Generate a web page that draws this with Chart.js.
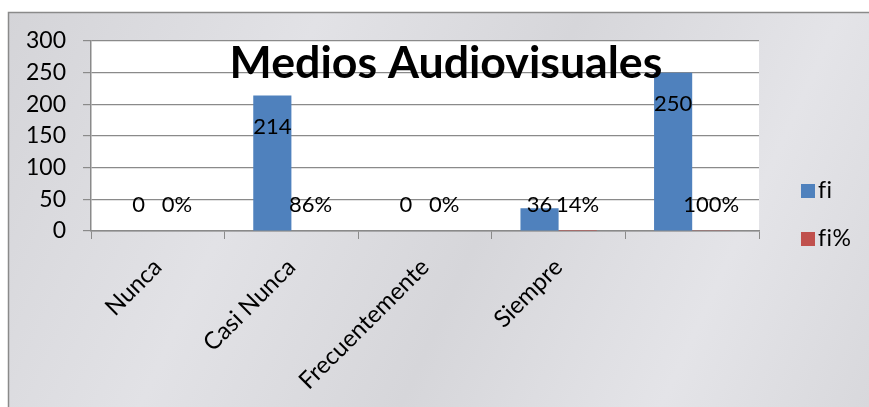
<!DOCTYPE html>
<html>
<head>
<meta charset="utf-8">
<script src="https://cdn.jsdelivr.net/npm/chart.js@4.4.1/dist/chart.umd.min.js"></script>
<style>
  html, body { margin: 0; padding: 0; background: #fff; }
  #wrap { width: 869px; height: 407px; position: relative; }
</style>
</head>
<body>
<div id="wrap"><canvas id="medios"></canvas></div>
<script>
const categories = ['Nunca', 'Casi Nunca', 'Frecuentemente', 'Siempre', ''];
const fiValues = [0, 214, 0, 36, 250];
const fiPctValues = [0, 0.86, 0, 0.14, 1];
const fiPctLabels = ['0%', '86%', '0%', '14%', '100%'];
const yTicks = [0, 50, 100, 150, 200, 250, 300];
const chartTitle = 'Medios Audiovisuales';

const FONT = 'Lato, Calibri, "Liberation Sans", sans-serif';

// background: white page, marble-ish panel, white plot area
const backdrop = {
    id: 'backdrop',
    beforeDraw(chart) {
        const ctx = chart.ctx;
        const a = chart.chartArea;
        ctx.save();
        ctx.fillStyle = '#ffffff';
        ctx.fillRect(0, 0, chart.width, chart.height);
        const g = ctx.createLinearGradient(8, 12, 869, 407);
        g.addColorStop(0, '#d4d4d8');
        g.addColorStop(0.3, '#e2e2e6');
        g.addColorStop(0.55, '#d6d6da');
        g.addColorStop(0.8, '#e4e4e8');
        g.addColorStop(1, '#d8d8dc');
        ctx.fillStyle = g;
        ctx.fillRect(8, 12, chart.width - 8, chart.height - 12);
        ctx.strokeStyle = '#8a8a8a';
        ctx.lineWidth = 1.5;
        ctx.beginPath();
        ctx.moveTo(8.5, chart.height);
        ctx.lineTo(8.5, 12.5);
        ctx.lineTo(chart.width, 12.5);
        ctx.stroke();
        ctx.fillStyle = '#ffffff';
        ctx.fillRect(a.left, a.top, a.right - a.left, a.bottom - a.top);
        ctx.restore();
    }
};

// value labels, title and legend
const overlay = {
    id: 'overlay',
    afterDatasetsDraw(chart) {
        const ctx = chart.ctx;
        const zeroY = chart.scales.y.getPixelForValue(0);
        ctx.save();
        ctx.fillStyle = '#000';
        ctx.font = '22px ' + FONT;
        ctx.textAlign = 'center';
        ctx.textBaseline = 'middle';
        chart.data.datasets.forEach((ds, di) => {
            const meta = chart.getDatasetMeta(di);
            meta.data.forEach((bar, i) => {
                const txt = di === 0 ? String(fiValues[i]) : fiPctLabels[i];
                const y = Math.min(bar.y + 31, zeroY - 26);
                ctx.fillText(txt, bar.x, y);
            });
        });

        // title
        ctx.font = 'bold 43px ' + FONT;
        let w = ctx.measureText(chartTitle).width;
        let size = 43 * 433 / w;
        ctx.font = 'bold ' + size.toFixed(1) + 'px ' + FONT;
        ctx.textBaseline = 'alphabetic';
        ctx.fillText(chartTitle, 446, 78);

        // legend (small letter spacing keeps "fi" from turning into a ligature)
        ctx.textAlign = 'left';
        ctx.textBaseline = 'middle';
        ctx.font = '23px ' + FONT;
        ctx.letterSpacing = '0.5px';
        chart.data.datasets.forEach((ds, di) => {
            const y = 191 + di * 48;
            ctx.fillStyle = ds.backgroundColor;
            ctx.fillRect(801, y - 7, 14, 14);
            ctx.fillStyle = '#000';
            ctx.fillText(ds.label, 818, y);
        });
        ctx.restore();
    }
};

const ctx = document.getElementById('medios').getContext('2d');
const chart = new Chart(ctx, {
    type: 'bar',
    data: {
        labels: categories,
        datasets: [{
            label: 'fi',
            data: fiValues,
            backgroundColor: '#4F81BD',
            categoryPercentage: 0.571,
            barPercentage: 1
        }, {
            label: 'fi%',
            data: fiPctValues,
            backgroundColor: '#C0504D',
            categoryPercentage: 0.571,
            barPercentage: 1
        }]
    },
    options: {
        responsive: true,
        maintainAspectRatio: false,
        animation: false,
        layout: {
            padding: { left: 0, top: 41, right: 110, bottom: 0 }
        },
        scales: {
            x: {
                grid: {
                    drawOnChartArea: false,
                    drawTicks: true,
                    tickLength: 8,
                    color: '#8a8a8a'
                },
                border: { color: '#8a8a8a', width: 1.5 },
                ticks: {
                    color: '#000',
                    maxRotation: 45,
                    minRotation: 45,
                    padding: 14,
                    font: { family: FONT, size: 24 }
                },
                afterFit(scale) { scale.height = 176; }
            },
            y: {
                min: 0,
                max: 300,
                afterBuildTicks(scale) {
                    scale.ticks = yTicks.map(v => ({ value: v }));
                },
                grid: {
                    color: '#8a8a8a',
                    lineWidth: 1.2,
                    tickLength: 8
                },
                border: { color: '#8a8a8a', width: 1.5 },
                ticks: {
                    color: '#000',
                    padding: 17,
                    font: { family: FONT, size: 23 }
                },
                afterFit(scale) { scale.width = 91; }
            }
        },
        plugins: {
            legend: { display: false },
            title: { display: false },
            tooltip: { enabled: false }
        }
    },
    plugins: [backdrop, overlay]
});
</script>
</body>
</html>
